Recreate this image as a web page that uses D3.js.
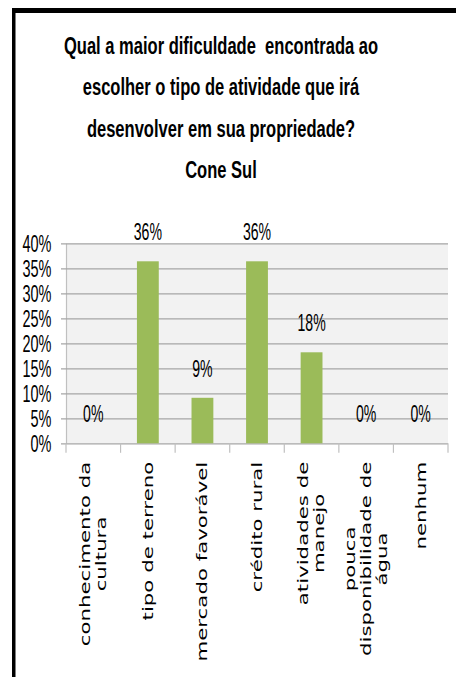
<!DOCTYPE html>
<html>
<head>
<meta charset="utf-8">
<script src="https://cdn.jsdelivr.net/npm/d3@7"></script>
<style>
body { margin: 0; background: #fff; }
svg { display: block; }
</style>
</head>
<body>
<script>
// chart data
var titleLines = [
	"Qual a maior dificuldade  encontrada ao",
	"escolher o tipo de atividade que irá",
	"desenvolver em sua propriedade?",
	"Cone Sul"
];
var categories = [
	"conhecimento da\ncultura",
	"tipo de terreno",
	"mercado favorável",
	"crédito rural",
	"atividades de\nmanejo",
	"pouca\ndisponibilidade de\nágua",
	"nenhum"
];
var values = [0, 36.4, 9.1, 36.4, 18.2, 0, 0]; // percent
var yTicks = [0, 5, 10, 15, 20, 25, 30, 35, 40];

var width = 456;
var height = 677;
var plotLeft = 66, plotRight = 448;
var plotTop = 243.3, plotBottom = 443.3;
var squeeze = 0.64; // the picture is squeezed sideways, so is the text
var labelFont = "'Liberation Sans', Arial, sans-serif";

var svg = d3.select("body")
	.append("svg")
	.attr("width", width)
	.attr("height", height);

// black frame (top and left edges)
svg.append("rect")
	.attr("x", 12).attr("y", 8)
	.attr("width", width - 12).attr("height", 5)
	.attr("fill", "#000");
svg.append("rect")
	.attr("x", 12).attr("y", 8)
	.attr("width", 3.5).attr("height", height - 8)
	.attr("fill", "#000");

// title
svg.selectAll(".title")
	.data(titleLines)
	.enter()
	.append("text")
	.attr("class", "title")
	.attr("transform", function(d, i) { return "translate(221," + (54 + i * 41.4) + ") scale(0.675,1)"; })
	.attr("text-anchor", "middle")
	.style("white-space", "pre")
	.style("font-family", labelFont)
	.style("font-weight", "bold")
	.style("font-size", "24.5px")
	.attr("fill", "#000")
	.text(function(d) { return d; });

var x = d3.scaleBand().domain(categories).range([plotLeft, plotRight]);
var y = d3.scaleLinear().domain([0, 40]).range([plotBottom, plotTop]);

// plot background
svg.append("rect")
	.attr("x", plotLeft).attr("y", plotTop)
	.attr("width", plotRight - plotLeft).attr("height", plotBottom - plotTop)
	.attr("fill", "#f2f2f2");

// y axis with gridlines
var yAxis = svg.append("g")
	.attr("transform", "translate(" + plotLeft + ",0)")
	.call(d3.axisLeft(y)
		.tickValues(yTicks)
		.tickSizeInner(-(plotRight - plotLeft))
		.tickSizeOuter(0)
		.tickFormat(function(d) { return d + "%"; }));
yAxis.select(".domain").attr("stroke", "#c0c0c0").attr("stroke-width", 1.2);
yAxis.selectAll(".tick line")
	.attr("x1", -5)
	.attr("stroke", "#a6a6a6")
	.attr("stroke-width", 1.3);
yAxis.selectAll(".tick text")
	.attr("x", 0)
	.attr("dy", null)
	.attr("transform", "translate(-14.5,8.2) scale(0.63,1)")
	.attr("fill", "#000")
	.style("font-family", labelFont)
	.style("font-size", "23px");

// category tick marks on the x axis
var bounds = categories.map(function(d) { return x(d); }).concat([plotRight]);
svg.selectAll(".xtick")
	.data(bounds)
	.enter()
	.append("line")
	.attr("class", "xtick")
	.attr("x1", function(d) { return d; })
	.attr("x2", function(d) { return d; })
	.attr("y1", plotBottom)
	.attr("y2", plotBottom + 9.5)
	.attr("stroke", "#c0c0c0")
	.attr("stroke-width", 1.2);

// bars
var barWidth = x.bandwidth() * 0.4;
svg.selectAll(".bar")
	.data(values)
	.enter()
	.append("rect")
	.attr("class", "bar")
	.attr("x", function(d, i) { return x(categories[i]) + (x.bandwidth() - barWidth) / 2; })
	.attr("y", function(d) { return y(d); })
	.attr("width", barWidth)
	.attr("height", function(d) { return plotBottom - y(d); })
	.attr("fill", "#9bbb59");

// value labels
svg.selectAll(".value")
	.data(values)
	.enter()
	.append("text")
	.attr("class", "value")
	.attr("transform", function(d, i) {
		return "translate(" + (x(categories[i]) + x.bandwidth() / 2) + "," + (y(d) - 21) + ") scale(0.6,1)";
	})
	.attr("text-anchor", "middle")
	.style("font-family", labelFont)
	.style("font-size", "23.5px")
	.attr("fill", "#000")
	.text(function(d) { return Math.round(d) + "%"; });

// rotated category labels, lines centred on each other, block starting under the axis
categories.forEach(function(cat) {
	var lines = cat.split("\n");
	var cx = x(cat) + x.bandwidth() / 2;
	var nodes = lines.map(function(line, i) {
		return svg.append("text")
			.attr("text-anchor", "middle")
			.attr("dy", "0.36em")
			.style("font-family", "'DejaVu Sans', Verdana, sans-serif")
			.style("font-size", "21.3px")
			.attr("fill", "#000")
			.text(line);
	});
	var longest = d3.max(nodes, function(n) { return n.node().getComputedTextLength(); });
	var cy = 461.7 + longest / 2;
	nodes.forEach(function(n, i) {
		var lx = cx + (i - (lines.length - 1) / 2) * 16;
		n.attr("transform", "translate(" + lx + "," + cy + ") scale(" + squeeze + ",1) rotate(-90)");
	});
});
</script>
</body>
</html>
